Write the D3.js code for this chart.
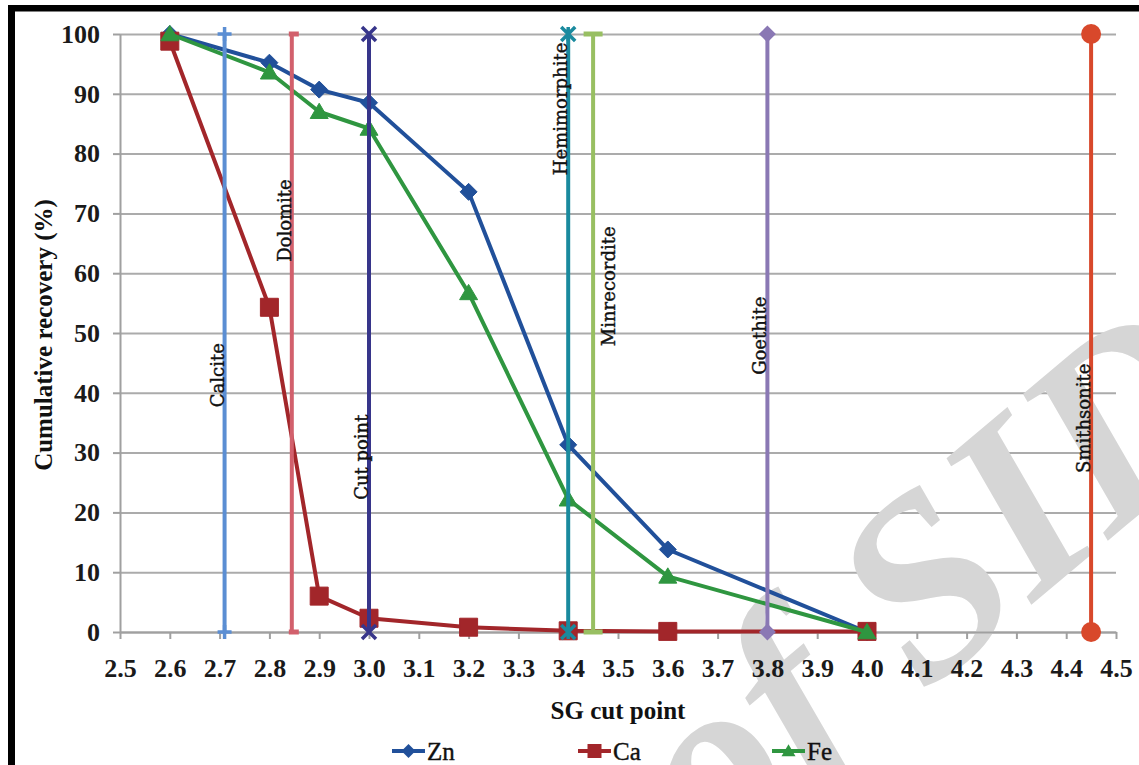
<!DOCTYPE html>
<html>
<head>
<meta charset="utf-8">
<script src="https://cdn.jsdelivr.net/npm/d3@7"></script>
<style>
  body { margin: 0; background: #fff; }
  svg { display: block; }
</style>
</head>
<body>
<div id="chart"></div>
<script>
// data
const cutPoints  = [2.6, 2.8, 2.9, 3.0, 3.2, 3.4, 3.6, 4.0];
const znRecovery = [100, 95.2, 90.7, 88.5, 73.6, 31.3, 13.8, 0];
const caRecovery = [98.8, 54.3, 6.0, 2.3, 0.8, 0.2, 0.1, 0.1];
const feRecovery = [100, 93.6, 87.0, 84.2, 56.7, 22.2, 9.3, 0];
const seriesNames = ['Zn', 'Ca', 'Fe'];

const minerals   = ['Calcite', 'Dolomite', 'Cut point', 'Hemimorphite', 'Minrecordite', 'Goethite', 'Smithsonite'];
const mineralSG  = [2.71, 2.845, 3.0, 3.4, 3.45, 3.8, 4.45];
const mineralLow = [0, 0, 0, 0, 0, 0, 0];
const mineralTop = [100, 100, 100, 100, 100, 100, 100];
// where each rotated label starts (on the recovery scale)
const labelStart = [37.6, 61.9, 22.1, 76.4, 47.8, 43.0, 26.6];

const xTickLabels = ['2.5','2.6','2.7','2.8','2.9','3.0','3.1','3.2','3.3','3.4','3.5',
                     '3.6','3.7','3.8','3.9','4.0','4.1','4.2','4.3','4.4','4.5'];
const yTickLabels = ['0','10','20','30','40','50','60','70','80','90','100'];

const W = 1139, H = 765;
const serif = '"Liberation Serif", "Times New Roman", serif';
const slab = '"DejaVu Serif", serif';
const seriesColor = { Zn: '#21509a', Ca: '#a2262a', Fe: '#2f9640' };
const seriesShape = { Zn: 'diamond', Ca: 'square', Fe: 'triangle' };
const mineralStyle = [
  { color: '#5b8ed3', marker: 'plus',   side: 'left' },
  { color: '#d2606c', marker: 'dash',   side: 'left' },
  { color: '#37358a', marker: 'cross',  side: 'left' },
  { color: '#1a8a9e', marker: 'star',   side: 'left' },
  { color: '#98bf62', marker: 'bar',    side: 'right' },
  { color: '#8a78b4', marker: 'diamond',side: 'left' },
  { color: '#d8482b', marker: 'circle', side: 'left' }
];

const svg = d3.select('#chart').append('svg')
  .attr('width', W).attr('height', H)
  .style('font-family', serif);

svg.append('rect').attr('width', W).attr('height', H).attr('fill', '#fff');

const x = d3.scaleLinear().domain([2.5, 4.5]).range([120, 1116]);
const y = d3.scaleLinear().domain([0, 100]).range([632, 34]);

// horizontal gridlines
svg.append('g')
  .attr('transform', 'translate(120,0)')
  .call(d3.axisLeft(y).tickValues(yTickLabels.map(Number)).tickSize(-(1116 - 120)).tickFormat(''))
  .call(g => g.select('.domain').remove())
  .call(g => g.selectAll('line').attr('stroke', '#ababab').attr('stroke-width', 2));

// watermark of the source site
svg.append('text')
  .attr('transform', 'translate(713,872) rotate(-40)')
  .attr('font-family', serif)
  .attr('font-style', 'italic')
  .attr('font-weight', 'bold')
  .attr('font-size', 255)
  .attr('fill', '#d6d6d6')
  .text('of SID');

// y axis
svg.append('g')
  .attr('transform', 'translate(120,0)')
  .call(d3.axisLeft(y).tickValues(yTickLabels.map(Number)).tickSize(7).tickSizeOuter(0).tickPadding(13))
  .call(g => g.select('.domain').attr('stroke', '#a0a0a0').attr('stroke-width', 2))
  .call(g => g.selectAll('.tick line').attr('stroke', '#a0a0a0').attr('stroke-width', 2))
  .call(g => g.selectAll('text').attr('font-family', serif).attr('font-size', 26)
    .attr('font-weight', 'bold').attr('fill', '#1a1a1a'));

// x axis
svg.append('g')
  .attr('transform', 'translate(0,632)')
  .call(d3.axisBottom(x).tickValues(xTickLabels.map(Number)).tickSize(7).tickSizeOuter(0)
    .tickFormat((d, i) => xTickLabels[i]))
  .call(g => g.select('.domain').attr('stroke', '#a0a0a0').attr('stroke-width', 2))
  .call(g => g.selectAll('.tick line').attr('stroke', '#a0a0a0').attr('stroke-width', 2))
  .call(g => g.selectAll('text').attr('y', 45).attr('dy', 0)
    .attr('font-family', serif).attr('font-size', 26).attr('font-weight', 'bold').attr('fill', '#1a1a1a'));

// axis titles
svg.append('text')
  .attr('transform', 'translate(52,335) rotate(-90)')
  .attr('text-anchor', 'middle')
  .attr('font-weight', 'bold').attr('font-size', 25).attr('fill', '#111')
  .text('Cumulative recovery (%)');

svg.append('text')
  .attr('x', 618).attr('y', 719)
  .attr('text-anchor', 'middle')
  .attr('font-weight', 'bold').attr('font-size', 25).attr('fill', '#111')
  .text('SG cut point');

// marker paths
function shapePath(type, s) {
  const h = s / 2;
  switch (type) {
    case 'diamond':  return `M0,${-h}L${h},0L0,${h}L${-h},0Z`;
    case 'square':   return `M${-h},${-h}H${h}V${h}H${-h}Z`;
    case 'triangle': return `M0,${-h * 0.95}L${h},${h * 0.75}L${-h},${h * 0.75}Z`;
    case 'plus':     return `M${-h},0H${h}M0,${-h}V${h}`;
    case 'cross':    return `M${-h},${-h}L${h},${h}M${h},${-h}L${-h},${h}`;
    case 'star':     return `M${-h},${-h}L${h},${h}M${h},${-h}L${-h},${h}M0,${-h}V${h}`;
    case 'dash':     return `M-3,-2.5H7V2.5H-3Z`;
    case 'bar':      return `M${-h},-2.5H${h}V2.5H${-h}Z`;
  }
}

const seriesData = { Zn: znRecovery, Ca: caRecovery, Fe: feRecovery };
const line = d3.line().x(d => x(d[0])).y(d => y(d[1]));

seriesNames.forEach(name => {
  const pts = cutPoints.map((c, i) => [c, seriesData[name][i]]);
  const g = svg.append('g');
  g.append('path').datum(pts)
    .attr('d', line)
    .attr('fill', 'none')
    .attr('stroke', seriesColor[name])
    .attr('stroke-width', 4)
    .attr('stroke-linejoin', 'round');
  g.selectAll('path.m').data(pts).join('path')
    .attr('class', 'm')
    .attr('transform', d => `translate(${x(d[0])},${y(d[1])})`)
    .attr('d', shapePath(seriesShape[name], name === 'Zn' ? 17 : 18))
    .attr('fill', seriesColor[name])
    .attr('stroke', seriesColor[name])
    .attr('stroke-width', 1)
    .attr('stroke-linejoin', 'round');
});

// mineral SG lines
minerals.forEach((m, i) => {
  const st = mineralStyle[i];
  const g = svg.append('g');
  const xv = x(mineralSG[i]);
  g.append('line')
    .attr('x1', xv).attr('x2', xv)
    .attr('y1', y(mineralLow[i])).attr('y2', y(mineralTop[i]))
    .attr('stroke', st.color).attr('stroke-width', 4);

  [mineralLow[i], mineralTop[i]].forEach(v => {
    const t = `translate(${xv},${y(v)})`;
    if (st.marker === 'circle') {
      g.append('circle').attr('cx', xv).attr('cy', y(v)).attr('r', 10).attr('fill', st.color);
    } else if (st.marker === 'diamond') {
      g.append('path').attr('transform', t).attr('d', shapePath('diamond', 17)).attr('fill', st.color);
    } else if (st.marker === 'dash' || st.marker === 'bar') {
      g.append('path').attr('transform', t).attr('d', shapePath(st.marker, 19)).attr('fill', st.color);
    } else {
      g.append('path').attr('transform', t).attr('d', shapePath(st.marker, 14))
        .attr('fill', 'none').attr('stroke', st.color).attr('stroke-width', 3.5);
    }
  });

  const bx = st.side === 'left' ? xv - 1 : xv + 22;
  g.append('text')
    .attr('transform', `translate(${bx},${y(labelStart[i])}) rotate(-90)`)
    .attr('font-family', slab)
    .attr('font-size', 18)
    .attr('fill', '#111')
    .attr('stroke', '#111')
    .attr('stroke-width', 0.4)
    .text(m);
});

// legend
const legendX = [392, 578, 772];
const lg = svg.append('g');
seriesNames.forEach((name, i) => {
  const lx = legendX[i], ly = 751;
  lg.append('line')
    .attr('x1', lx).attr('x2', lx + 33).attr('y1', ly).attr('y2', ly)
    .attr('stroke', seriesColor[name]).attr('stroke-width', 4);
  lg.append('path')
    .attr('transform', `translate(${lx + 16.5},${ly})`)
    .attr('d', shapePath(seriesShape[name], 14))
    .attr('fill', seriesColor[name]);
  lg.append('text')
    .attr('x', lx + 35).attr('y', ly + 9)
    .attr('font-size', 25).attr('fill', '#111')
    .attr('stroke', '#111').attr('stroke-width', 0.4)
    .text(name);
});

// black frame edges
svg.append('rect').attr('x', 8).attr('y', 5).attr('width', W - 8).attr('height', 6.5).attr('fill', '#000');
svg.append('rect').attr('x', 8).attr('y', 5).attr('width', 7).attr('height', H - 5).attr('fill', '#000');
</script>
</body>
</html>
